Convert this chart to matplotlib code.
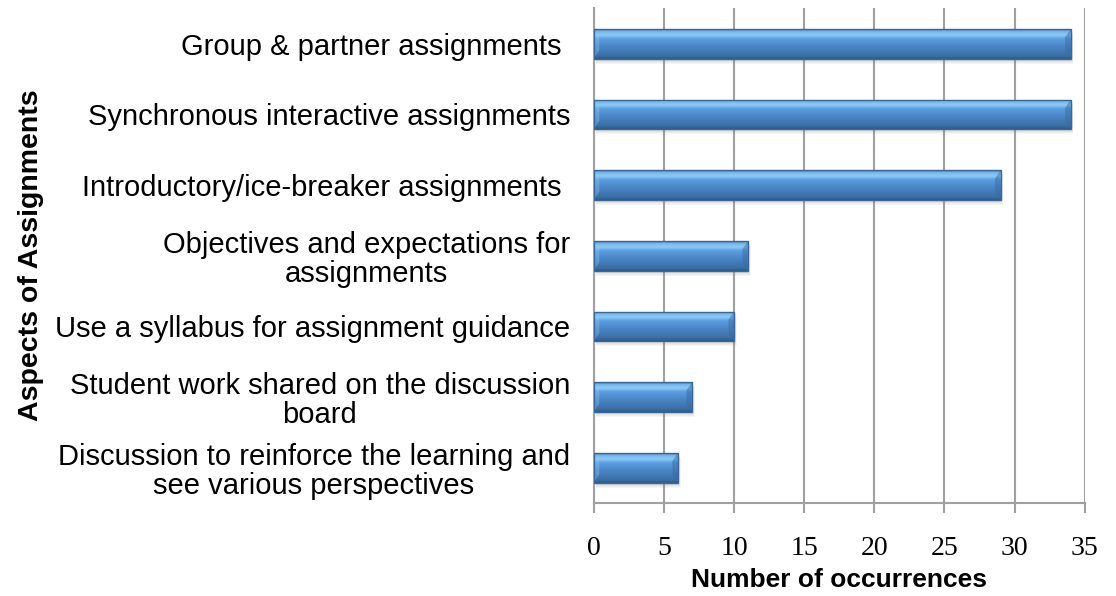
import numpy as np
import matplotlib
matplotlib.use('Agg')
import matplotlib.pyplot as plt
from matplotlib.patches import Polygon
from matplotlib.colors import LinearSegmentedColormap

plt.rcParams['font.family'] = 'Liberation Sans'

# data
categories = ['Group & partner assignments ',
              'Synchronous interactive assignments',
              'Introductory/ice-breaker assignments ',
              'Objectives and expectations for\nassignments',
              'Use a syllabus for assignment guidance',
              'Student work shared on the discussion\nboard',
              'Discussion to reinforce the learning and\nsee various perspectives']
counts = [34, 34, 29, 11, 10, 7, 6]
x_ticks = [0, 5, 10, 15, 20, 25, 30, 35]

fig = plt.figure(figsize=(11.16, 5.96), dpi=100)
ax = fig.add_axes([0.532, 0.156, 0.440, 0.830])

y_pos = np.arange(len(categories))
bar_h = 0.42

# soft drop shadow under each bar (y axis is inverted, so + is down)
for k in range(4):
    ax.barh(y_pos + 0.03 + k * 0.015, counts, height=bar_h, left=0.10 + k * 0.03,
            color='#7f7f7f', alpha=0.07, zorder=2, linewidth=0)

bars = ax.barh(y_pos, counts, height=bar_h, color='none',
               edgecolor='#3a6797', linewidth=1.0, zorder=4)

# vertical gradient for the bar fill, listed from visual top to bottom
grad = LinearSegmentedColormap.from_list('bevel', [
    (0.00, '#4a80bd'),
    (0.08, '#7bb8ec'),
    (0.20, '#8ccaf6'),
    (0.32, '#5c9de0'),
    (0.58, '#4a86c6'),
    (0.90, '#3b6ea6'),
    (1.00, '#2f5a8a'),
])
g = np.linspace(0, 1, 64).reshape(-1, 1)

for b in bars:
    x0, y0 = b.get_x(), b.get_y()
    w, h = b.get_width(), b.get_height()
    # inverted y axis: row 0 lands on the visual top (y0)
    im = ax.imshow(g, cmap=grad, aspect='auto', origin='lower',
                   extent=[x0, x0 + w, y0, y0 + h], zorder=3,
                   interpolation='bilinear')
    im.set_clip_path(b)
    bw = 0.4
    bh = h * 0.28
    # right bevel (darker)
    ax.add_patch(Polygon([[x0 + w - bw, y0 + bh], [x0 + w, y0], [x0 + w, y0 + h],
                          [x0 + w - bw, y0 + h - bh]], closed=True,
                         facecolor='#3a6ca3', alpha=0.5, linewidth=0, zorder=3.5))
    # left bevel (lighter)
    ax.add_patch(Polygon([[x0, y0], [x0 + bw, y0 + bh], [x0 + bw, y0 + h - bh],
                          [x0, y0 + h]], closed=True,
                         facecolor='#9fd2f8', alpha=0.3, linewidth=0, zorder=3.5))

ax.set_xlim(0, 35)
ax.set_ylim(len(categories) - 0.5, -0.5)

ax.set_xticks(x_ticks)
ax.set_xticklabels([str(t) for t in x_ticks], fontfamily='Liberation Serif', fontsize=20)
ax.set_yticks(y_pos)
ax.set_yticklabels(categories, fontsize=21, multialignment='center', linespacing=1.05)

ax.tick_params(axis='y', length=0, pad=17)
ax.tick_params(axis='x', length=7, width=1.5, color='#a0a0a0', pad=17)

ax.grid(axis='x', color='#a0a0a0', linewidth=1.5, zorder=0)
ax.set_axisbelow(True)
for s in ['top', 'right']:
    ax.spines[s].set_visible(False)
for s in ['left', 'bottom']:
    ax.spines[s].set_color('#a0a0a0')
    ax.spines[s].set_linewidth(1.5)

ax.set_xlabel('Number of occurrences', fontsize=19, fontweight='bold', labelpad=5)
fig.text(0.028, 0.572, 'Aspects of Assignments', rotation=90, fontsize=20.5,
         fontweight='bold', ha='center', va='center')

fig.savefig('out.png', dpi=100)
